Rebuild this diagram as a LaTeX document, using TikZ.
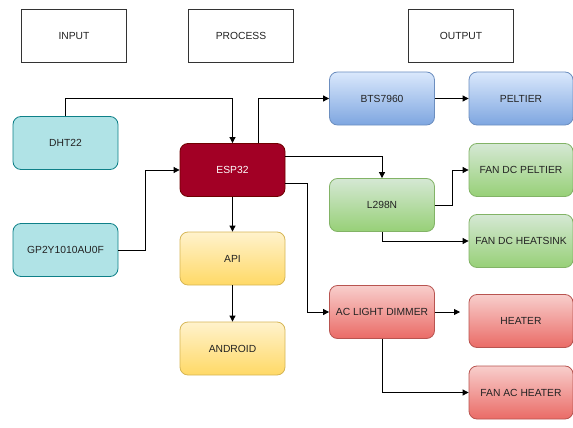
\documentclass[tikz,border=0pt]{standalone}
\usepackage{fontspec}
\setmainfont{Liberation Sans}
\usepackage{tikz}
\usetikzlibrary{arrows.meta, positioning}
\usepackage{xcolor}

\definecolor{cyanfill}{HTML}{B0E3E6}
\definecolor{cyanline}{HTML}{0E8088}
\definecolor{espfill}{HTML}{A20025}
\definecolor{espline}{HTML}{6F0000}
\definecolor{yeltop}{HTML}{FFF2CC}
\definecolor{yelbot}{HTML}{FFD966}
\definecolor{yelline}{HTML}{D6B656}
\definecolor{bluetop}{HTML}{DAE8FC}
\definecolor{bluebot}{HTML}{7EA6E0}
\definecolor{blueline}{HTML}{6C8EBF}
\definecolor{greentop}{HTML}{D5E8D4}
\definecolor{greenbot}{HTML}{97D077}
\definecolor{greenline}{HTML}{82B366}
\definecolor{redtop}{HTML}{F8CECC}
\definecolor{redbot}{HTML}{EA6B66}
\definecolor{redline}{HTML}{B85450}
\definecolor{txt}{HTML}{222222}

\tikzset{
  box/.style={minimum width=105pt, minimum height=53pt, inner sep=0pt,
    font=\fontsize{10.3}{12}\selectfont, text=txt, line width=0.8pt},
  header/.style={box, draw=black!80},
  sensor/.style={box, rounded corners=8pt, draw=cyanline, fill=cyanfill},
  mcu/.style={box, rounded corners=8pt, draw=espline, fill=espfill, text=white},
  app/.style={box, rounded corners=8pt, draw=yelline, top color=yeltop, bottom color=yelbot},
  bluebox/.style={box, rounded corners=8pt, draw=blueline, top color=bluetop, bottom color=bluebot},
  greenbox/.style={box, rounded corners=8pt, draw=greenline, top color=greentop, bottom color=greenbot},
  redbox/.style={box, rounded corners=8pt, draw=redline, top color=redtop, bottom color=redbot},
}

\begin{document}
\begin{tikzpicture}[x=1pt, y=-1pt, >={Triangle[length=6pt,width=6pt]}, line width=0.8pt]
            \useasboundingbox (0,0) rectangle (573,428);

            \node[header] (IN) at (74, 36) {INPUT};
            \node[header] (PROC) at (241, 36) {PROCESS};
            \node[header] (OUT) at (461, 36) {OUTPUT};

            \node[sensor] (DHT) at (65.5, 143) {DHT22};
            \node[sensor] (GP) at (65.5, 250) {GP2Y1010AU0F};

            \node[mcu] (ESP) at (232.5, 170) {ESP32};
            \node[app] (API) at (232.5, 258.5) {API};
            \node[app] (AND) at (232.5, 348.5) {ANDROID};

            \node[bluebox] (BTS) at (382, 98.5) {BTS7960};
            \node[bluebox, minimum width=104pt] (PEL) at (521, 98.5) {PELTIER};
            \node[greenbox] (LN) at (382, 205) {L298N};
            \node[greenbox, minimum width=104pt] (FDP) at (521, 170) {FAN DC PELTIER};
            \node[greenbox, minimum width=104pt] (FDH) at (521, 241) {FAN DC HEATSINK};
            \node[redbox] (DIM) at (382, 312) {AC LIGHT DIMMER};
            \node[redbox, minimum width=104pt] (HEAT) at (521, 321) {HEATER};
            \node[redbox, minimum width=104pt] (FAH) at (521, 392.5) {FAN AC HEATER};
            \coordinate (HEATin) at (460, 312);

            \draw[->] (DHT.north) -- ++(0,-18) -| (ESP.north);
            \draw[->] (GP.east) -- ++(27,0) |- (ESP.west);
            \draw[->] ([xshift=26pt]ESP.north) |- (BTS.west);
            \draw[->] ([yshift=14pt]ESP.east) -| (LN.north);
            \draw[->] ([yshift=-13pt]ESP.east) -- ++(22,0) |- (DIM.west);
            \draw[->] (ESP) -- (API);
            \draw[->] (API) -- (AND);

            \draw[->] (BTS) -- (PEL);
            \draw[->] (LN.east) -- ++(17,0) |- (FDP.west);
            \draw[->] (LN.south) |- (FDH.west);
            \draw[->] (DIM.east) -- (HEATin);
            \draw[->] (DIM.south) |- (FAH.west);
        \end{tikzpicture}
\end{document}
